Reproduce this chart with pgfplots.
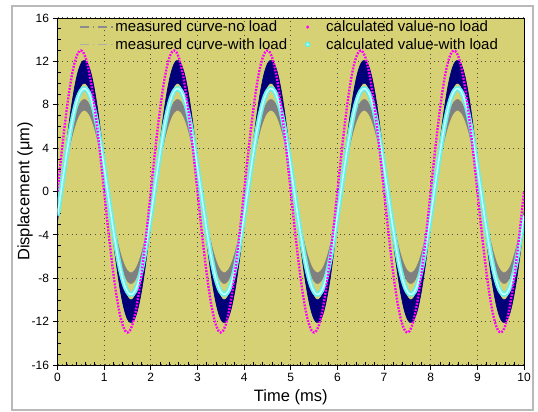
\documentclass[border=0pt]{standalone}
\usepackage{fontspec}
\setmainfont{Liberation Sans}
\usepackage{pgfplots}
\pgfplotsset{compat=1.18}
\usepgfplotslibrary{fillbetween}
\usepackage{pgfplotstable}
\definecolor{bgkhaki}{RGB}{214,209,116}
\definecolor{navyblue}{RGB}{0,0,120}
\definecolor{mag}{RGB}{255,0,255}
\definecolor{cyanc}{RGB}{100,240,235}
\definecolor{cyanl}{RGB}{200,255,250}
\definecolor{grayband}{RGB}{128,128,128}
\definecolor{legA}{RGB}{140,140,140}
\definecolor{legB}{RGB}{175,175,170}

% t = time (ms); m = calculated no load; nh/nl = measured no load band;
% c = calculated with load; gh/gl = measured with load band
\pgfplotstableread{
t m nh nl c gh gl
0.00 0 -2.82 -2.33 -2.22 -1.98 -1.75
0.05 2.03 -0.95 -0.78 -0.75 -0.67 -0.59
0.10 4.02 0.95 0.78 0.75 0.67 0.59
0.15 5.90 2.82 2.33 2.22 1.98 1.75
0.20 7.64 4.63 3.83 3.64 3.25 2.87
0.25 9.19 6.32 5.23 4.96 4.44 3.92
0.30 10.52 7.86 6.49 6.17 5.52 4.87
0.35 11.58 9.20 7.60 7.22 6.46 5.70
0.40 12.36 10.32 8.53 8.10 7.25 6.39
0.45 12.84 11.18 9.24 8.78 7.85 6.93
0.50 13.00 11.77 9.72 9.24 8.27 7.29
0.55 12.84 12.06 9.97 9.47 8.47 7.48
0.60 12.36 12.06 9.97 9.47 8.47 7.48
0.65 11.58 11.77 9.72 9.24 8.27 7.29
0.70 10.52 11.18 9.24 8.78 7.85 6.93
0.75 9.19 10.32 8.53 8.10 7.25 6.39
0.80 7.64 9.20 7.60 7.22 6.46 5.70
0.85 5.90 7.86 6.49 6.17 5.52 4.87
0.90 4.02 6.32 5.23 4.96 4.44 3.92
0.95 2.03 4.63 3.83 3.64 3.25 2.87
1.00 0 2.82 2.33 2.22 1.98 1.75
1.05 -2.03 0.95 0.78 0.75 0.67 0.59
1.10 -4.02 -0.95 -0.78 -0.75 -0.67 -0.59
1.15 -5.90 -2.82 -2.33 -2.22 -1.98 -1.75
1.20 -7.64 -4.63 -3.83 -3.64 -3.25 -2.87
1.25 -9.19 -6.32 -5.23 -4.96 -4.44 -3.92
1.30 -10.52 -7.86 -6.49 -6.17 -5.52 -4.87
1.35 -11.58 -9.20 -7.60 -7.22 -6.46 -5.70
1.40 -12.36 -10.32 -8.53 -8.10 -7.25 -6.39
1.45 -12.84 -11.18 -9.24 -8.78 -7.85 -6.93
1.50 -13.00 -11.77 -9.72 -9.24 -8.27 -7.29
1.55 -12.84 -12.06 -9.97 -9.47 -8.47 -7.48
1.60 -12.36 -12.06 -9.97 -9.47 -8.47 -7.48
1.65 -11.58 -11.77 -9.72 -9.24 -8.27 -7.29
1.70 -10.52 -11.18 -9.24 -8.78 -7.85 -6.93
1.75 -9.19 -10.32 -8.53 -8.10 -7.25 -6.39
1.80 -7.64 -9.20 -7.60 -7.22 -6.46 -5.70
1.85 -5.90 -7.86 -6.49 -6.17 -5.52 -4.87
1.90 -4.02 -6.32 -5.23 -4.96 -4.44 -3.92
1.95 -2.03 -4.63 -3.83 -3.64 -3.25 -2.87
2.00 0 -2.82 -2.33 -2.22 -1.98 -1.75
2.05 2.03 -0.95 -0.78 -0.75 -0.67 -0.59
2.10 4.02 0.95 0.78 0.75 0.67 0.59
2.15 5.90 2.82 2.33 2.22 1.98 1.75
2.20 7.64 4.63 3.83 3.64 3.25 2.87
2.25 9.19 6.32 5.23 4.96 4.44 3.92
2.30 10.52 7.86 6.49 6.17 5.52 4.87
2.35 11.58 9.20 7.60 7.22 6.46 5.70
2.40 12.36 10.32 8.53 8.10 7.25 6.39
2.45 12.84 11.18 9.24 8.78 7.85 6.93
2.50 13.00 11.77 9.72 9.24 8.27 7.29
2.55 12.84 12.06 9.97 9.47 8.47 7.48
2.60 12.36 12.06 9.97 9.47 8.47 7.48
2.65 11.58 11.77 9.72 9.24 8.27 7.29
2.70 10.52 11.18 9.24 8.78 7.85 6.93
2.75 9.19 10.32 8.53 8.10 7.25 6.39
2.80 7.64 9.20 7.60 7.22 6.46 5.70
2.85 5.90 7.86 6.49 6.17 5.52 4.87
2.90 4.02 6.32 5.23 4.96 4.44 3.92
2.95 2.03 4.63 3.83 3.64 3.25 2.87
3.00 0 2.82 2.33 2.22 1.98 1.75
3.05 -2.03 0.95 0.78 0.75 0.67 0.59
3.10 -4.02 -0.95 -0.78 -0.75 -0.67 -0.59
3.15 -5.90 -2.82 -2.33 -2.22 -1.98 -1.75
3.20 -7.64 -4.63 -3.83 -3.64 -3.25 -2.87
3.25 -9.19 -6.32 -5.23 -4.96 -4.44 -3.92
3.30 -10.52 -7.86 -6.49 -6.17 -5.52 -4.87
3.35 -11.58 -9.20 -7.60 -7.22 -6.46 -5.70
3.40 -12.36 -10.32 -8.53 -8.10 -7.25 -6.39
3.45 -12.84 -11.18 -9.24 -8.78 -7.85 -6.93
3.50 -13.00 -11.77 -9.72 -9.24 -8.27 -7.29
3.55 -12.84 -12.06 -9.97 -9.47 -8.47 -7.48
3.60 -12.36 -12.06 -9.97 -9.47 -8.47 -7.48
3.65 -11.58 -11.77 -9.72 -9.24 -8.27 -7.29
3.70 -10.52 -11.18 -9.24 -8.78 -7.85 -6.93
3.75 -9.19 -10.32 -8.53 -8.10 -7.25 -6.39
3.80 -7.64 -9.20 -7.60 -7.22 -6.46 -5.70
3.85 -5.90 -7.86 -6.49 -6.17 -5.52 -4.87
3.90 -4.02 -6.32 -5.23 -4.96 -4.44 -3.92
3.95 -2.03 -4.63 -3.83 -3.64 -3.25 -2.87
4.00 0 -2.82 -2.33 -2.22 -1.98 -1.75
4.05 2.03 -0.95 -0.78 -0.75 -0.67 -0.59
4.10 4.02 0.95 0.78 0.75 0.67 0.59
4.15 5.90 2.82 2.33 2.22 1.98 1.75
4.20 7.64 4.63 3.83 3.64 3.25 2.87
4.25 9.19 6.32 5.23 4.96 4.44 3.92
4.30 10.52 7.86 6.49 6.17 5.52 4.87
4.35 11.58 9.20 7.60 7.22 6.46 5.70
4.40 12.36 10.32 8.53 8.10 7.25 6.39
4.45 12.84 11.18 9.24 8.78 7.85 6.93
4.50 13.00 11.77 9.72 9.24 8.27 7.29
4.55 12.84 12.06 9.97 9.47 8.47 7.48
4.60 12.36 12.06 9.97 9.47 8.47 7.48
4.65 11.58 11.77 9.72 9.24 8.27 7.29
4.70 10.52 11.18 9.24 8.78 7.85 6.93
4.75 9.19 10.32 8.53 8.10 7.25 6.39
4.80 7.64 9.20 7.60 7.22 6.46 5.70
4.85 5.90 7.86 6.49 6.17 5.52 4.87
4.90 4.02 6.32 5.23 4.96 4.44 3.92
4.95 2.03 4.63 3.83 3.64 3.25 2.87
5.00 0 2.82 2.33 2.22 1.98 1.75
5.05 -2.03 0.95 0.78 0.75 0.67 0.59
5.10 -4.02 -0.95 -0.78 -0.75 -0.67 -0.59
5.15 -5.90 -2.82 -2.33 -2.22 -1.98 -1.75
5.20 -7.64 -4.63 -3.83 -3.64 -3.25 -2.87
5.25 -9.19 -6.32 -5.23 -4.96 -4.44 -3.92
5.30 -10.52 -7.86 -6.49 -6.17 -5.52 -4.87
5.35 -11.58 -9.20 -7.60 -7.22 -6.46 -5.70
5.40 -12.36 -10.32 -8.53 -8.10 -7.25 -6.39
5.45 -12.84 -11.18 -9.24 -8.78 -7.85 -6.93
5.50 -13.00 -11.77 -9.72 -9.24 -8.27 -7.29
5.55 -12.84 -12.06 -9.97 -9.47 -8.47 -7.48
5.60 -12.36 -12.06 -9.97 -9.47 -8.47 -7.48
5.65 -11.58 -11.77 -9.72 -9.24 -8.27 -7.29
5.70 -10.52 -11.18 -9.24 -8.78 -7.85 -6.93
5.75 -9.19 -10.32 -8.53 -8.10 -7.25 -6.39
5.80 -7.64 -9.20 -7.60 -7.22 -6.46 -5.70
5.85 -5.90 -7.86 -6.49 -6.17 -5.52 -4.87
5.90 -4.02 -6.32 -5.23 -4.96 -4.44 -3.92
5.95 -2.03 -4.63 -3.83 -3.64 -3.25 -2.87
6.00 0 -2.82 -2.33 -2.22 -1.98 -1.75
6.05 2.03 -0.95 -0.78 -0.75 -0.67 -0.59
6.10 4.02 0.95 0.78 0.75 0.67 0.59
6.15 5.90 2.82 2.33 2.22 1.98 1.75
6.20 7.64 4.63 3.83 3.64 3.25 2.87
6.25 9.19 6.32 5.23 4.96 4.44 3.92
6.30 10.52 7.86 6.49 6.17 5.52 4.87
6.35 11.58 9.20 7.60 7.22 6.46 5.70
6.40 12.36 10.32 8.53 8.10 7.25 6.39
6.45 12.84 11.18 9.24 8.78 7.85 6.93
6.50 13.00 11.77 9.72 9.24 8.27 7.29
6.55 12.84 12.06 9.97 9.47 8.47 7.48
6.60 12.36 12.06 9.97 9.47 8.47 7.48
6.65 11.58 11.77 9.72 9.24 8.27 7.29
6.70 10.52 11.18 9.24 8.78 7.85 6.93
6.75 9.19 10.32 8.53 8.10 7.25 6.39
6.80 7.64 9.20 7.60 7.22 6.46 5.70
6.85 5.90 7.86 6.49 6.17 5.52 4.87
6.90 4.02 6.32 5.23 4.96 4.44 3.92
6.95 2.03 4.63 3.83 3.64 3.25 2.87
7.00 0 2.82 2.33 2.22 1.98 1.75
7.05 -2.03 0.95 0.78 0.75 0.67 0.59
7.10 -4.02 -0.95 -0.78 -0.75 -0.67 -0.59
7.15 -5.90 -2.82 -2.33 -2.22 -1.98 -1.75
7.20 -7.64 -4.63 -3.83 -3.64 -3.25 -2.87
7.25 -9.19 -6.32 -5.23 -4.96 -4.44 -3.92
7.30 -10.52 -7.86 -6.49 -6.17 -5.52 -4.87
7.35 -11.58 -9.20 -7.60 -7.22 -6.46 -5.70
7.40 -12.36 -10.32 -8.53 -8.10 -7.25 -6.39
7.45 -12.84 -11.18 -9.24 -8.78 -7.85 -6.93
7.50 -13.00 -11.77 -9.72 -9.24 -8.27 -7.29
7.55 -12.84 -12.06 -9.97 -9.47 -8.47 -7.48
7.60 -12.36 -12.06 -9.97 -9.47 -8.47 -7.48
7.65 -11.58 -11.77 -9.72 -9.24 -8.27 -7.29
7.70 -10.52 -11.18 -9.24 -8.78 -7.85 -6.93
7.75 -9.19 -10.32 -8.53 -8.10 -7.25 -6.39
7.80 -7.64 -9.20 -7.60 -7.22 -6.46 -5.70
7.85 -5.90 -7.86 -6.49 -6.17 -5.52 -4.87
7.90 -4.02 -6.32 -5.23 -4.96 -4.44 -3.92
7.95 -2.03 -4.63 -3.83 -3.64 -3.25 -2.87
8.00 0 -2.82 -2.33 -2.22 -1.98 -1.75
8.05 2.03 -0.95 -0.78 -0.75 -0.67 -0.59
8.10 4.02 0.95 0.78 0.75 0.67 0.59
8.15 5.90 2.82 2.33 2.22 1.98 1.75
8.20 7.64 4.63 3.83 3.64 3.25 2.87
8.25 9.19 6.32 5.23 4.96 4.44 3.92
8.30 10.52 7.86 6.49 6.17 5.52 4.87
8.35 11.58 9.20 7.60 7.22 6.46 5.70
8.40 12.36 10.32 8.53 8.10 7.25 6.39
8.45 12.84 11.18 9.24 8.78 7.85 6.93
8.50 13.00 11.77 9.72 9.24 8.27 7.29
8.55 12.84 12.06 9.97 9.47 8.47 7.48
8.60 12.36 12.06 9.97 9.47 8.47 7.48
8.65 11.58 11.77 9.72 9.24 8.27 7.29
8.70 10.52 11.18 9.24 8.78 7.85 6.93
8.75 9.19 10.32 8.53 8.10 7.25 6.39
8.80 7.64 9.20 7.60 7.22 6.46 5.70
8.85 5.90 7.86 6.49 6.17 5.52 4.87
8.90 4.02 6.32 5.23 4.96 4.44 3.92
8.95 2.03 4.63 3.83 3.64 3.25 2.87
9.00 0 2.82 2.33 2.22 1.98 1.75
9.05 -2.03 0.95 0.78 0.75 0.67 0.59
9.10 -4.02 -0.95 -0.78 -0.75 -0.67 -0.59
9.15 -5.90 -2.82 -2.33 -2.22 -1.98 -1.75
9.20 -7.64 -4.63 -3.83 -3.64 -3.25 -2.87
9.25 -9.19 -6.32 -5.23 -4.96 -4.44 -3.92
9.30 -10.52 -7.86 -6.49 -6.17 -5.52 -4.87
9.35 -11.58 -9.20 -7.60 -7.22 -6.46 -5.70
9.40 -12.36 -10.32 -8.53 -8.10 -7.25 -6.39
9.45 -12.84 -11.18 -9.24 -8.78 -7.85 -6.93
9.50 -13.00 -11.77 -9.72 -9.24 -8.27 -7.29
9.55 -12.84 -12.06 -9.97 -9.47 -8.47 -7.48
9.60 -12.36 -12.06 -9.97 -9.47 -8.47 -7.48
9.65 -11.58 -11.77 -9.72 -9.24 -8.27 -7.29
9.70 -10.52 -11.18 -9.24 -8.78 -7.85 -6.93
9.75 -9.19 -10.32 -8.53 -8.10 -7.25 -6.39
9.80 -7.64 -9.20 -7.60 -7.22 -6.46 -5.70
9.85 -5.90 -7.86 -6.49 -6.17 -5.52 -4.87
9.90 -4.02 -6.32 -5.23 -4.96 -4.44 -3.92
9.95 -2.03 -4.63 -3.83 -3.64 -3.25 -2.87
10.00 0 -2.82 -2.33 -2.22 -1.98 -1.75
}\data

\begin{document}
\begin{tikzpicture}[x=1pt,y=1pt]
\path (0,0) rectangle (538,412);
\draw[gray!55, line width=1.2pt] (12,2) rectangle (533,406);
\begin{axis}[
  at={(57.5pt,47pt)}, anchor=south west,
  width=466.5pt, height=347pt, scale only axis,
  xmin=0, xmax=10, ymin=-16, ymax=16,
  xtick={0,1,...,10}, ytick={-16,-12,...,16},
  minor x tick num=4, minor y tick num=3,
  tick pos=left,
  tick align=outside, major tick length=5pt, minor tick length=-3pt,
  every tick/.style={black, line width=0.9pt},
  minor tick style={black, line width=0.7pt},
  axis background/.style={fill=bgkhaki},
  grid=major,
  major grid style={black!70, line width=1pt, dash pattern=on 1pt off 3.7pt},
  axis line style={black, line width=0.9pt},
  tick label style={font=\fontsize{12}{14}\selectfont},
  /pgf/number format/assume math mode=true,
  label style={font=\fontsize{16.5}{19}\selectfont},
  xlabel={Time (ms)},
  ylabel={Displacement (μm)},
  xlabel style={at={(axis description cs:0.5,-0.094)}, anchor=center},
  ylabel style={at={(axis description cs:-0.0697,0.5)}, anchor=center},
  legend columns=2,
  legend style={draw=none, fill=none, at={(0.046,0.998)}, anchor=north west,
    font=\fontsize{15}{17}\selectfont, inner sep=0pt, row sep=1pt,
    /tikz/every even column/.append style={column sep=2pt},
    cells={anchor=west}},
]
\addlegendimage{legend image code/.code={\draw[legA, solid, line width=1.3pt, dash pattern=on 9pt off 4pt on 1.5pt off 4pt] (0pt,0pt) -- (33pt,0pt);}}
\addlegendentry{measured curve-no load}
\addlegendimage{legend image code/.code={\path[draw=none, fill=none] (0pt,-2pt) rectangle (33pt,2pt); \path[draw=none, fill=mag] (16.5pt,0pt) circle (1.7pt);}}
\addlegendentry{calculated value-no load}
\addlegendimage{legend image code/.code={\draw[legB, solid, line width=1.3pt, dash pattern=on 9pt off 4pt on 1.5pt off 4pt] (0pt,0pt) -- (33pt,0pt);}}
\addlegendentry{measured curve-with load}
\addlegendimage{legend image code/.code={\path[draw=none, fill=none] (0pt,-2pt) rectangle (33pt,2pt); \path[draw=none, fill=cyanc] (16.5pt,0pt) circle (2.8pt); \path[draw=none, fill=cyanl] (16.5pt,0pt) circle (1.2pt);}}
\addlegendentry{calculated value-with load}

% measured curve - no load (noisy band)
\addplot[navyblue, line width=0.7pt, smooth, name path=nh, forget plot] table[x=t,y=nh]{\data};
\addplot[navyblue, line width=0.7pt, smooth, name path=nl, forget plot] table[x=t,y=nl]{\data};
\addplot[navyblue, forget plot] fill between[of=nh and nl];
% measured curve - with load (noisy band)
\addplot[grayband, line width=0.5pt, smooth, name path=gh, forget plot] table[x=t,y=gh]{\data};
\addplot[grayband, line width=0.5pt, smooth, name path=gl, forget plot] table[x=t,y=gl]{\data};
\addplot[grayband, forget plot] fill between[of=gh and gl];
% calculated value - with load
\addplot[cyanc, line width=4.8pt, smooth, forget plot] table[x=t,y=c]{\data};
\addplot[cyanl, line width=1.5pt, smooth, forget plot] table[x=t,y=c]{\data};
% calculated value - no load
\addplot[mag, line width=2.4pt, smooth, dash pattern=on 1.8pt off 1.4pt, forget plot] table[x=t,y=m]{\data};
\end{axis}
\end{tikzpicture}
\end{document}
